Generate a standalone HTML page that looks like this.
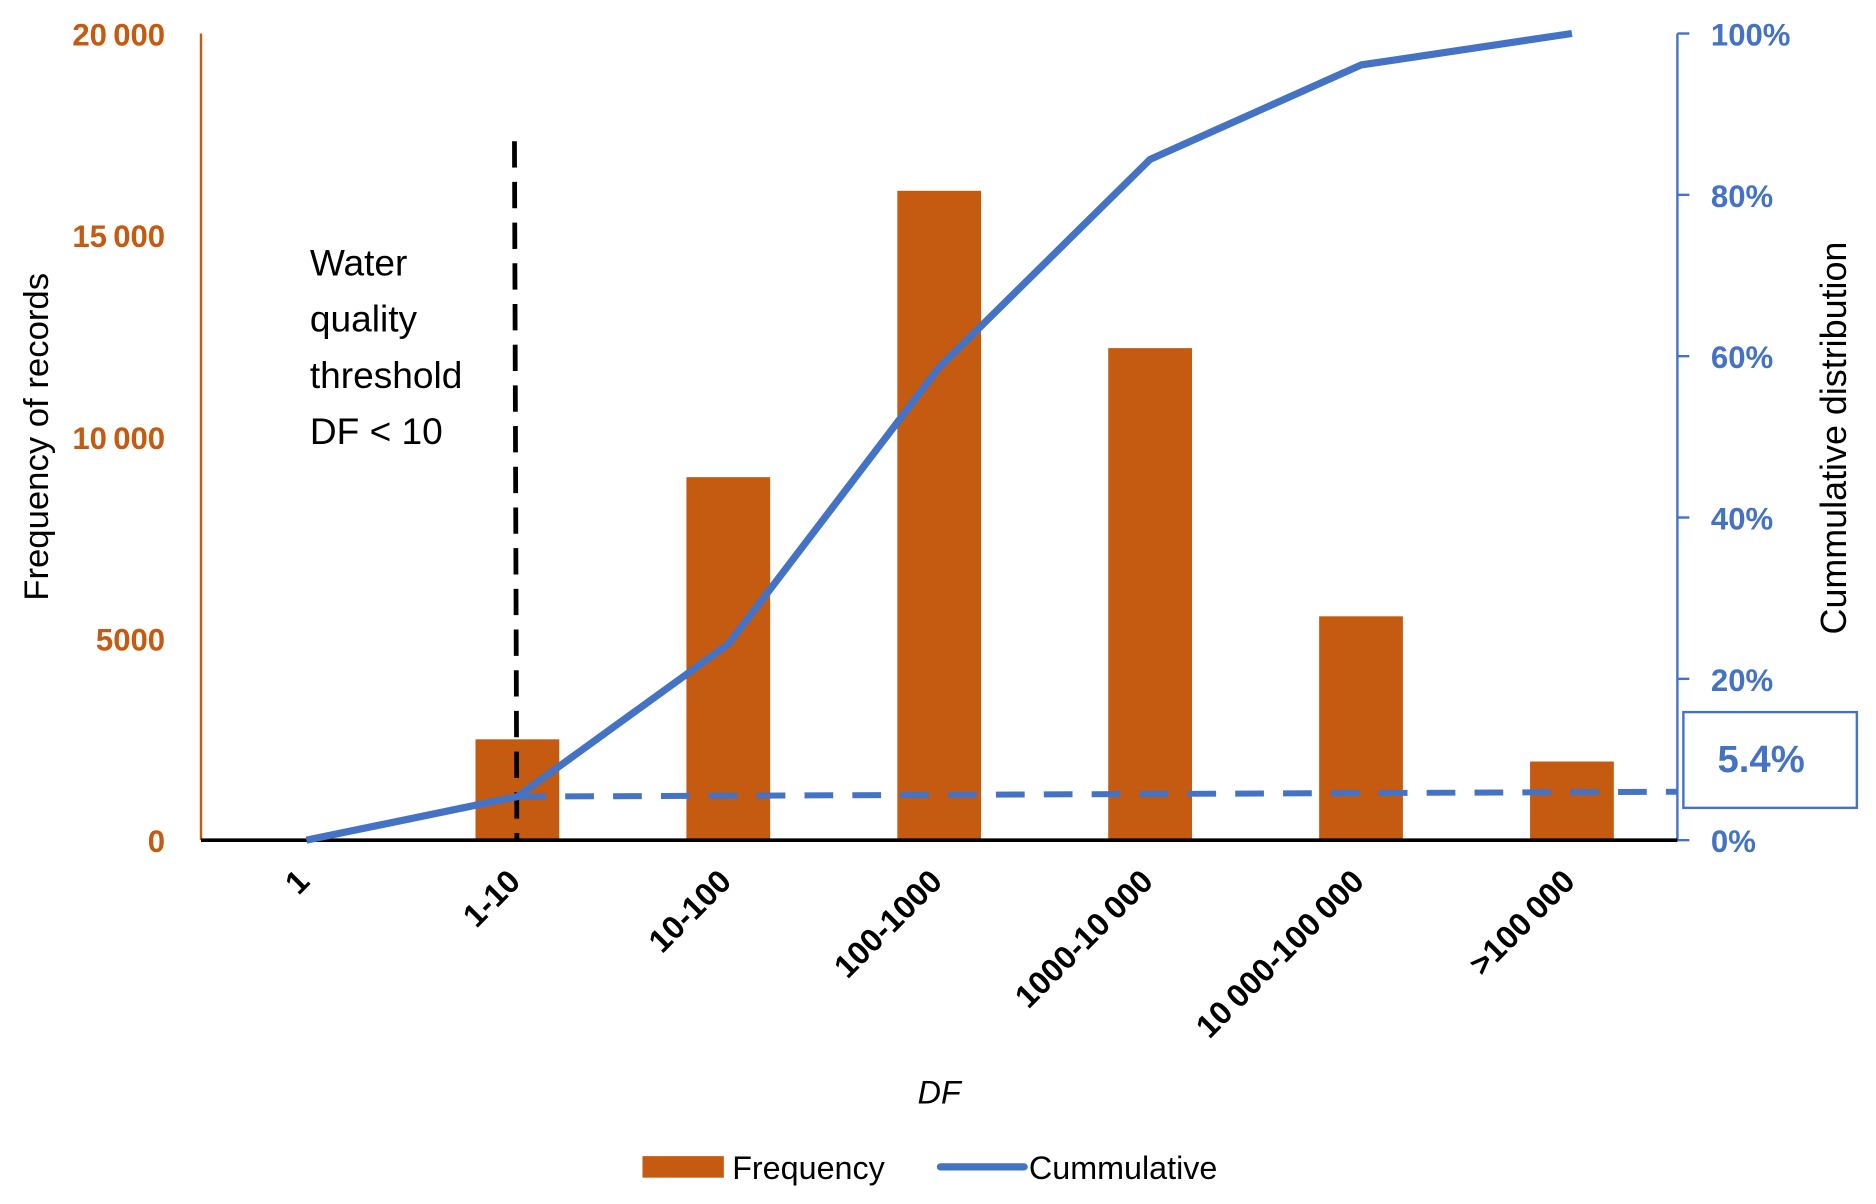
<!DOCTYPE html>
<html><head><meta charset="utf-8"><style>
html,body{margin:0;padding:0;background:#fff;width:1876px;height:1204px;overflow:hidden}
svg{display:block}
text{font-family:"Liberation Sans",sans-serif}
</style></head><body>
<svg id="chart" width="1876" height="1204" viewBox="0 0 1568 1006" preserveAspectRatio="none" xmlns="http://www.w3.org/2000/svg">
<g id="g"></g>
</svg>
<script>
const categories = ["1","1-10","10-100","100-1000","1000-10\u2009000","10\u2009000-100\u2009000",">100\u2009000"];
const frequency = [0, 2500, 9000, 16100, 12200, 5550, 1950];
const cumulative = [0, 5.4, 24.3, 58.6, 84.4, 96.1, 100];
const leftTicks = [0, 5000, 10000, 15000, 20000];
const leftTickLabels = ["0","5000","10\u2009000","15\u2009000","20\u2009000"];
const rightTicks = [0, 20, 40, 60, 80, 100];
const rightTickLabels = ["0%","20%","40%","60%","80%","100%"];
const thresholdPct = [5.4, 6.0];

const X0=168, X1=1402, Y0=702, Y1=28;
const band=(X1-X0)/categories.length;
const xc=i=>X0+band*(i+0.5);
const yL=v=>Y0-(v/20000)*(Y0-Y1);
const yR=v=>Y0-(v/100)*(Y0-Y1);
const ORANGE="#C55A11", BLUE="#4472C4";
const g=document.getElementById('g');
const NS="http://www.w3.org/2000/svg";
function mk(tag,attrs,txt){const e=document.createElementNS(NS,tag);for(const k in attrs)e.setAttribute(k,attrs[k]);if(txt!==undefined)e.textContent=txt;g.appendChild(e);return e;}

frequency.forEach((v,i)=>{
  const b=mk('rect',{x:xc(i)-35,y:yL(v),width:70,height:Y0-yL(v),fill:ORANGE});
  
  
});
let a=mk('line',{x1:X0,y1:Y1,x2:X0,y2:Y0,stroke:ORANGE,'stroke-width':2});


a=mk('line',{x1:X1,y1:Y1,x2:X1,y2:Y0,stroke:BLUE,'stroke-width':2});


rightTicks.forEach((v,i)=>{
  const t=mk('line',{x1:X1,y1:yR(v),x2:X1+10,y2:yR(v),stroke:BLUE,'stroke-width':2});
  
  
  const l=mk('text',{x:1430,y:yR(v)+10,fill:BLUE,'font-size':26,'font-weight':'bold'},rightTickLabels[i]);
  
  
});
leftTicks.forEach((v,i)=>{
  const l=mk('text',{x:138,y:yL(v)+10,fill:ORANGE,'font-size':26,'font-weight':'bold','text-anchor':'end'},leftTickLabels[i]);
  
  
});
a=mk('line',{x1:X0,y1:Y0,x2:X1,y2:Y0,stroke:'#000','stroke-width':3});


a=mk('line',{x1:430,y1:118,x2:432,y2:Y0,stroke:'#000','stroke-width':4,'stroke-dasharray':'22 12'});


const pts=cumulative.map((v,i)=>xc(i)+','+yR(v)).join(' ');
a=mk('polyline',{points:pts,fill:'none',stroke:BLUE,'stroke-width':6,'stroke-linejoin':'round'});


a=mk('line',{x1:xc(1),y1:yR(thresholdPct[0]),x2:X1,y2:yR(thresholdPct[1]),stroke:BLUE,'stroke-width':5,'stroke-dasharray':'24 16'});


a=mk('rect',{x:1407,y:595,width:145,height:80,fill:'#fff',stroke:BLUE,'stroke-width':2});


a=mk('text',{x:1472,y:645,fill:BLUE,'font-size':32,'font-weight':'bold','text-anchor':'middle'},'5.4%');


categories.forEach((c,i)=>{
  const x=xc(i)+4,y=738;
  const l=mk('text',{x:x,y:y,'font-size':27,'font-weight':'bold','text-anchor':'end',transform:`rotate(-45 ${x} ${y})`},c);
  
  
});
["Water","quality","threshold","DF <  10"].forEach((s,i)=>{
  const l=mk('text',{x:259,y:230+i*47,'font-size':31},s);
  
  
});
a=mk('text',{x:0,y:0,'font-size':29,'text-anchor':'middle',transform:'translate(40 365) rotate(-90)'},'Frequency of records');


a=mk('text',{x:0,y:0,'font-size':30,'text-anchor':'middle',transform:'translate(1543 366) rotate(-90)'},'Cummulative distribution');


a=mk('text',{x:785,y:922,'font-size':27,'font-style':'italic','text-anchor':'middle'},'DF');


a=mk('rect',{x:537,y:966,width:68,height:18,fill:ORANGE});


a=mk('text',{x:612,y:985,'font-size':27},'Frequency');


a=mk('line',{x1:786,y1:975,x2:856,y2:975,stroke:BLUE,'stroke-width':6,'stroke-linecap':'round'});


a=mk('text',{x:860,y:985,'font-size':27},'Cummulative');


</script>
</body></html>
